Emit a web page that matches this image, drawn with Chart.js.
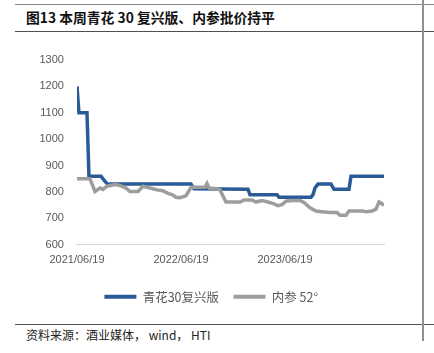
<!DOCTYPE html>
<html>
<head>
<meta charset="utf-8">
<script src="https://cdn.jsdelivr.net/npm/chart.js@4"></script>
<style>
  html, body { margin: 0; padding: 0; background: #fff; }
  body { width: 434px; height: 353px; position: relative; overflow: hidden; font-family: "Noto Sans CJK SC", "Liberation Sans", sans-serif; }
  .rule { position: absolute; left: 15px; width: 419px; height: 1px; background: #505050; }
  .vrule { position: absolute; left: 422px; top: 0; width: 2px; height: 341px; background: #909090; }
  #title { position: absolute; left: 26px; top: 7px; font-size: 13.8px; font-weight: bold; color: #111; white-space: nowrap; }
  #source { position: absolute; left: 26px; top: 326px; font-size: 12px; color: #222; white-space: nowrap; }
  #wrap { position: absolute; left: 0; top: 40px; width: 434px; height: 276px; }
</style>
</head>
<body>
<div class="rule" style="top:4px;background:#8a8a8a"></div>
<div class="rule" style="top:31px"></div>
<div class="rule" style="top:324px"></div>
<div class="vrule"></div>
<div id="title">图13 本周青花 30 复兴版、内参批价持平</div>
<div id="source">资料来源：酒业媒体， wind， HTI</div>
<div id="wrap"><canvas id="chart"></canvas></div>
<script>
// ── DATA (x = weeks since 2021/06/19) ────────────────────────────────────────
const xTickWeeks  = [0, 52, 104];
const xTickLabels = ['2021/06/19', '2022/06/19', '2023/06/19'];
const yTicks      = [600, 700, 800, 900, 1000, 1100, 1200, 1300];

const qhLabel = '青花30复兴版';
const qhWeeks = [0, 1, 5, 6, 12, 13.5, 15.5, 16.5, 57, 58.5, 85.5, 86.5, 100, 101, 117, 118, 119, 120.5, 127, 128.5, 136, 137, 153.5];
const qhPrice = [1200, 1100, 1100, 860, 860, 845, 828, 830, 830, 812, 810, 790, 790, 780, 780, 790, 815, 830, 830, 810, 810, 860, 860];

const nsLabel = '内参 52°';
const nsWeeks = [0, 6.5, 9, 11.5, 13, 15, 19, 21.5, 24.5, 26.5, 30.5, 33, 36.5, 40, 43, 45.5, 47.5, 49.5, 51.5, 54.5, 57, 64, 65, 66, 70, 71.5, 74.5, 81.5, 83.5, 87.5, 89.5, 92.5, 95.5, 98.5, 100.5, 102.5, 104.5, 107.5, 111.5, 113.5, 116.5, 119.5, 122.5, 126.5, 130, 131.5, 134.5, 136, 142.5, 144.5, 147.5, 149.5, 151, 152, 153.5];
const nsPrice = [850, 850, 802, 815, 810, 822, 828, 825, 815, 802, 802, 822, 815, 808, 805, 795, 790, 780, 778, 786, 818, 818, 832, 815, 812, 808, 762, 762, 770, 770, 762, 768, 762, 755, 748, 752, 765, 768, 768, 760, 740, 728, 725, 722, 722, 712, 712, 728, 728, 725, 728, 735, 762, 758, 750];

// ── COLORS ──────────────────────────────────────────────────────────────────
const BLUE = '#2a5b97';
const GRAY = '#9d9d9d';
const TEXT = '#595959';

const toPoints = (xs, ys) => xs.map((x, i) => ({ x, y: ys[i] }));

// legend sits a little right of the plot centre in the original
const legendShift = {
  id: 'legendShift',
  afterLayout(chart) {
    if (chart.legend) { chart.legend.left += 6; chart.legend.right += 6; }
  },
};

new Chart(document.getElementById('chart'), {
  type: 'line',
  data: {
    datasets: [
      { label: qhLabel, data: toPoints(qhWeeks, qhPrice), borderColor: BLUE, backgroundColor: BLUE, borderWidth: 3.5, pointRadius: 0, tension: 0, order: 1 },
      { label: nsLabel, data: toPoints(nsWeeks, nsPrice), borderColor: GRAY, backgroundColor: GRAY, borderWidth: 3.5, pointRadius: 0, tension: 0, order: 0 },
    ],
  },
  plugins: [legendShift],
  options: {
    responsive: true, maintainAspectRatio: false,
    animation: false,
    layout: { padding: { left: 26.5, right: 50, top: 20, bottom: 3 } },
    plugins: {
      tooltip: { enabled: false },
      legend: {
        position: 'bottom',
        labels: {
          color: TEXT,
          font: { family: '"Noto Sans CJK SC", sans-serif', size: 12.5 },
          boxWidth: 32, boxHeight: 4, padding: 14.5,
          sort: (a, b) => a.datasetIndex - b.datasetIndex,
          generateLabels(chart) {
            return Chart.defaults.plugins.legend.labels.generateLabels(chart).map(l => ({ ...l, lineWidth: 0 }));
          },
        },
      },
    },
    scales: {
      x: {
        type: 'linear', min: 0, max: 153.5,
        afterBuildTicks: s => { s.ticks = xTickWeeks.map(v => ({ value: v })); },
        afterFit: s => { s.paddingLeft = 0; s.paddingRight = 0; },
        grid: { display: false, drawTicks: false },
        border: { display: true, color: '#d9d9d9', width: 1 },
        ticks: {
          color: TEXT, padding: 9, maxRotation: 0, autoSkip: false,
          font: { family: '"Liberation Sans", sans-serif', size: 11 },
          callback: v => xTickLabels[xTickWeeks.indexOf(v)] ?? '',
        },
      },
      y: {
        min: yTicks[0], max: yTicks[yTicks.length - 1],
        afterBuildTicks: s => { s.ticks = yTicks.map(v => ({ value: v })); },
        grid: { display: false, drawTicks: false },
        border: { display: false },
        ticks: {
          color: TEXT, padding: 13,
          font: { family: '"Liberation Sans", sans-serif', size: 11 },
          callback: v => String(v),
        },
      },
    },
  },
});
</script>
</body>
</html>
